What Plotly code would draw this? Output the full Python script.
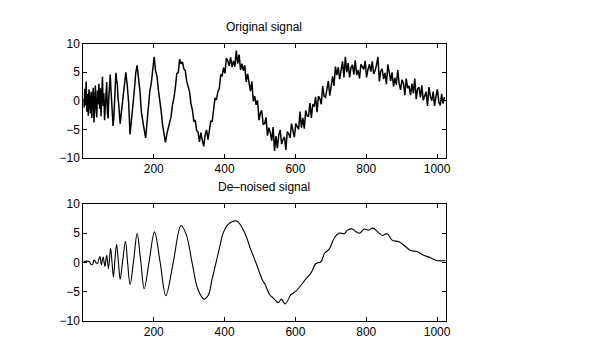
import plotly.graph_objects as go

# ---------------- data ----------------
# Original (noisy) signal: dense part sampled every 2, then every 4 samples
noisy_x = list(range(1, 101, 2)) + list(range(101, 1025, 4))
noisy_y = [
    0.3, -1.2, 2.1, -0.8, 3.4, -1.9, 1.2, -2.6, 2.0, 0.4,
    -2.2, 1.6, -3.0, 0.5, 2.3, -3.8, 1.1, 2.7, -1.5, -2.9,
    1.8, -0.6, 3.0, -1.4, 2.2, -2.7, 0.8, 4.2, -0.9, 1.3,
    -3.4, -1.0, 2.9, 3.3, -2.1, -3.1, 0.6, 3.6, 4.6, 2.0,
    -1.2, -2.8, -4.4, -3.1, 0.2, 2.5, 4.9, 3.6, 3.0, 0.5,
    # x = 101 ...
    -0.6, -4.0, -1.6, 0.9, 2.9, 5.0, 2.7, -0.3, -5.9, -3.5,
    -1.5, 1.8, 4.9, 6.2, 3.9, 1.6, -2.0, -4.1, -5.1, -6.5,
    -3.2, -0.9, 1.8, 3.1, 5.1, 7.7, 5.3, 4.3, 1.9, 0.4,
    -1.9, -4.3, -6.0, -7.3, -5.8, -4.6, -3.3, -2.7, -0.6, 0.5,
    2.4, 4.8, 4.9, 7.3, 6.5, 6.8, 5.6, 5.3, 3.4, 2.2,
    1.6, -0.5, -1.6, -3.6, -3.4, -5.2, -5.5, -7.2, -5.6, -6.9,
    -8.0, -6.0, -5.1, -6.8, -4.9, -3.6, -3.6, -1.2, 0.5, 0.2,
    1.6, 2.1, 4.6, 4.3, 5.8, 4.8, 7.5, 7.0, 6.1, 7.6,
    5.9, 7.0, 6.0, 8.8, 6.5, 8.1, 5.4, 6.5, 5.3, 6.2,
    3.3, 4.7, 3.4, 1.7, 3.4, -0.1, 0.8, -0.7, 0.1, -3.4,
    -2.1, -1.7, -4.2, -4.0, -2.9, -6.1, -4.7, -5.6, -7.0, -4.6,
    -8.8, -6.2, -8.3, -6.0, -5.1, -7.6, -6.8, -6.3, -8.6, -5.4,
    -5.8, -6.5, -4.0, -5.6, -6.4, -4.0, -4.4, -5.0, -1.9, -4.7,
    -3.0, -4.9, -1.7, -2.6, -2.8, -0.4, -3.0, -0.6, -1.0, 0.7,
    -2.0, 0.8, 0.4, -0.6, 2.6, 0.8, 0.6, 2.5, 3.5, 0.9,
    3.2, 4.3, 2.6, 6.0, 4.5, 5.9, 3.8, 5.3, 6.9, 4.1,
    7.7, 5.0, 6.6, 4.1, 5.8, 6.3, 4.6, 7.1, 4.5, 5.4,
    3.9, 6.4, 6.0, 5.5, 7.0, 4.1, 5.5, 6.4, 5.1, 6.9,
    4.7, 5.3, 6.3, 7.7, 3.4, 5.2, 5.6, 3.8, 4.9, 2.9,
    6.4, 5.0, 3.5, 5.0, 2.5, 4.0, 2.8, 5.4, 3.0, 1.9,
    3.7, 3.1, 1.0, 3.9, 2.2, 2.6, 1.0, 3.0, 1.3, 3.9,
    0.3, 2.1, 2.4, 0.6, 2.7, 0.1, 0.9, 1.6, -0.9, 2.4,
    0.8, 0.0, 1.6, -0.9, 0.8, 2.0, -0.2, -0.8, 1.2, -0.5,
    0.7,
]

# De-noised signal: points
den_x = [1, 10, 18, 22, 27, 31, 36, 41, 45, 48, 52, 57, 62, 67, 72, 78, 82, 86,
         90, 95, 100, 105, 112, 120, 126, 133, 143, 153, 163, 173, 187, 202,
         218, 234, 255, 277, 292, 308, 325, 342, 354, 365, 376, 386, 396, 410,
         434, 457, 472, 488, 508, 513, 527, 537, 552, 560, 571, 588, 602, 625,
         644, 658, 672, 682, 696, 710, 724, 738, 747, 761, 772, 782, 794, 806,
         819, 831, 845, 859, 873, 892, 911, 925, 943, 962, 981, 999, 1012, 1024]
den_y = [0.1, 0.2, 0.1, -0.3, -0.4, 0.4, 0.0, -0.2, 0.6, 1.0, -0.4, 0.9, -0.7,
         1.2, -1.1, 2.4, 0.0, -2.5, 0.2, 3.1, 0.1, -2.9, 0.2, 3.6, 0.0, -3.8,
         0.3, 4.9, 0.3, -4.5, 0.2, 5.2, 0.0, -5.7, 0.0, 6.3, 4.7, 0.0, -4.7,
         -6.3, -5.6, -2.8, 0.0, 2.6, 5.0, 6.5, 7.05, 5.0, 2.5, 0.0, -3.2, -3.6,
         -5.5, -6.1, -6.9, -6.3, -7.1, -5.5, -4.9, -3.2, -1.8, -0.2, 0.1, 1.5,
         2.3, 4.2, 5.0, 4.9, 5.5, 5.7, 5.2, 5.0, 5.7, 5.5, 5.85, 5.3, 4.6, 4.9,
         3.8, 3.5, 2.7, 2.0, 1.85, 1.2, 0.8, 0.3, 0.25, 0.3]

x_ticks = [200, 400, 600, 800, 1000]
y_ticks = [-10, -5, 0, 5, 10]
titles = ["Original signal", "De\u2013noised signal"]

# ---------------- figure ----------------
FONT = dict(family="Liberation Sans, Arial, Helvetica, sans-serif", size=12, color="black")

# the page body has an 8px margin: the figure starts at page pixel (8, 8) and is
# kept a little smaller than the window so that the page never scrolls
OFF = 8
W, H = 560, 338


def dx(p):
    return (p - OFF) / W


def dy(p):
    return 1 - (p - OFF) / H


fig = go.Figure()
fig.add_trace(go.Scatter(x=noisy_x, y=noisy_y, mode="lines",
                         line=dict(color="black", width=1.5),
                         xaxis="x", yaxis="y", showlegend=False, hoverinfo="skip"))
fig.add_trace(go.Scatter(x=den_x, y=den_y, mode="lines",
                         line=dict(color="black", width=1.1, shape="spline", smoothing=1.0),
                         xaxis="x2", yaxis="y2", showlegend=False, hoverinfo="skip"))

axis_common = dict(showgrid=False, zeroline=False, showline=True, linecolor="black",
                   linewidth=1, mirror="ticks", ticks="inside", ticklen=4,
                   tickcolor="black", tickwidth=1, tickfont=FONT)

xd = [dx(84), dx(449.5)]
fig.update_layout(
    width=W, height=H,
    margin=dict(l=0, r=0, t=0, b=0),
    paper_bgcolor="white", plot_bgcolor="white",
    font=FONT,
    xaxis=dict(domain=xd, range=[1, 1024], tickvals=x_ticks, anchor="y", **axis_common),
    yaxis=dict(domain=[dy(157), dy(38)], range=[-10, 10], tickvals=y_ticks,
               anchor="x", **axis_common),
    xaxis2=dict(domain=xd, range=[1, 1024], tickvals=x_ticks, anchor="y2", **axis_common),
    yaxis2=dict(domain=[dy(327), dy(205)], range=[-10, 10], tickvals=y_ticks,
                anchor="x2", **axis_common),
    annotations=[
        dict(text=titles[0], x=(xd[0] + xd[1]) / 2, y=dy(21), xref="paper",
             yref="paper", xanchor="center", yanchor="middle", showarrow=False, font=FONT),
        dict(text=titles[1], x=(xd[0] + xd[1]) / 2, y=dy(187), xref="paper",
             yref="paper", xanchor="center", yanchor="middle", showarrow=False, font=FONT),
    ],
)

fig.write_html("out.html")
